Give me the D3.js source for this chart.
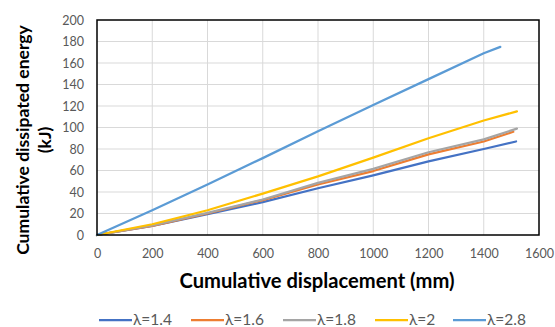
<!DOCTYPE html>
<html>
<head>
<meta charset="utf-8">
<script src="https://cdn.jsdelivr.net/npm/d3@7/dist/d3.min.js"></script>
<style>
    body { margin: 0; background: #fff; }
    svg { display: block; font-family: Lato, "Open Sans", sans-serif; }
</style>
</head>
<body>
<svg id="chart" width="555" height="327"></svg>
<script>
// tick labels
const xTicks = [0, 200, 400, 600, 800, 1000, 1200, 1400, 1600];
const yTicks = [0, 20, 40, 60, 80, 100, 120, 140, 160, 180, 200];

// series: cumulative displacement (mm) / cumulative dissipated energy (kJ)
const seriesNames = ['λ=1.4', 'λ=1.6', 'λ=1.8', 'λ=2', 'λ=2.8'];
const disp14 = [0, 200, 400, 600, 800, 1000, 1200, 1400, 1517];
const energy14 = [0, 8.5, 19.5, 30.5, 43.5, 55.5, 68.5, 80, 87];
const disp16 = [0, 200, 400, 600, 800, 1000, 1200, 1400, 1507];
const energy16 = [0, 8.5, 20, 32.5, 47, 59.5, 75, 87, 96];
const disp18 = [0, 200, 400, 600, 800, 1000, 1200, 1400, 1520];
const energy18 = [0, 9, 20.5, 33, 48.5, 61.5, 77, 89, 99];
const disp20 = [0, 200, 400, 600, 800, 1000, 1200, 1400, 1520];
const energy20 = [0, 10, 23, 38.5, 54.5, 72, 90, 106.5, 115];
const disp28 = [0, 200, 400, 600, 800, 1000, 1200, 1400, 1460];
const energy28 = [0, 23, 47, 71.5, 96.5, 121, 145, 169, 175];

const COLORS = ['#4472C4', '#ED7D31', '#A5A5A5', '#FFC000', '#5B9BD5'];
const LINE_WIDTH = 2.25;
const margins = {left: 97, top: 20, right: 16, bottom: 92};
const width = 555 - margins.left - margins.right;
const height = 327 - margins.top - margins.bottom;

const series = [
    [disp14, energy14],
    [disp16, energy16],
    [disp18, energy18],
    [disp20, energy20],
    [disp28, energy28]
].map(([xs, ys], i) => ({
    name: seriesNames[i],
    color: COLORS[i],
    points: xs.map((x, j) => ({x, y: ys[j]}))
}));

// scale a bold title's font so that it spans the width seen in the picture
function fitText(text, targetWidth) {
    const size = parseFloat(text.attr('font-size'));
    const w = text.node().getComputedTextLength();
    text.attr('font-size', size * targetWidth / w);
}

const svg = d3.select('#chart');
const xScale = d3.scaleLinear().domain([0, 1600]).range([0, width]);
const yScale = d3.scaleLinear().domain([0, 200]).range([height, 0]);

const g = svg.append('g')
    .attr('transform', `translate(${margins.left},${margins.top})`);

// gridlines
g.append('g')
    .selectAll('line')
    .data(xTicks.slice(1, -1))
    .join('line')
    .attr('x1', d => xScale(d)).attr('x2', d => xScale(d))
    .attr('y1', 0).attr('y2', height)
    .attr('stroke', '#d9d9d9').attr('stroke-width', 1);
g.append('g')
    .selectAll('line')
    .data(yTicks.slice(1, -1))
    .join('line')
    .attr('x1', 0).attr('x2', width)
    .attr('y1', d => yScale(d)).attr('y2', d => yScale(d))
    .attr('stroke', '#d9d9d9').attr('stroke-width', 1);

// axes (labels only, border drawn separately)
const xAxis = g.append('g')
    .attr('transform', `translate(0,${height})`)
    .call(d3.axisBottom(xScale).tickValues(xTicks).tickFormat(d3.format('d')).tickSize(0).tickPadding(14));
const yAxis = g.append('g')
    .call(d3.axisLeft(yScale).tickValues(yTicks).tickFormat(d3.format('d')).tickSize(0).tickPadding(13));
[xAxis, yAxis].forEach(a => {
    a.select('.domain').remove();
    a.selectAll('text')
        .attr('fill', '#595959')
        .style('font-size', '12.5px')
        .style('font-family', 'Lato, sans-serif');
});

// lines
const line = d3.line()
    .x(d => xScale(d.x))
    .y(d => yScale(d.y));
g.append('g')
    .selectAll('path')
    .data(series)
    .join('path')
    .attr('d', d => line(d.points))
    .attr('fill', 'none')
    .attr('stroke', d => d.color)
    .attr('stroke-width', LINE_WIDTH)
    .attr('stroke-linejoin', 'round')
    .attr('stroke-linecap', 'round');

// plot border
g.append('rect')
    .attr('x', 0).attr('y', 0)
    .attr('width', width).attr('height', height)
    .attr('fill', 'none')
    .attr('stroke', '#000')
    .attr('stroke-width', 1.5);

// axis titles
const xTitle = svg.append('text')
    .attr('x', 317)
    .attr('y', 288)
    .attr('text-anchor', 'middle')
    .attr('font-weight', 'bold')
    .attr('font-size', 18)
    .attr('fill', '#000')
    .text('Cumulative displacement (mm)');
fitText(xTitle, 275);

const yTitle = svg.append('text')
    .attr('transform', 'translate(0,140) rotate(-90)')
    .attr('text-anchor', 'middle')
    .attr('font-weight', 'bold')
    .attr('font-size', 18)
    .attr('fill', '#000');
const yLine1 = yTitle.append('tspan').attr('x', 0).attr('y', 29).text('Cumulative dissipated energy');
yTitle.append('tspan').attr('x', 0).attr('y', 51).text('(kJ)');
const s = 18 * 230 / yLine1.node().getComputedTextLength();
yTitle.attr('font-size', s);

// legend
const legendX = [99, 191, 283, 375, 453];
const legend = svg.append('g')
    .selectAll('g')
    .data(series)
    .join('g')
    .attr('transform', (d, i) => `translate(${legendX[i]},320)`);
legend.append('line')
    .attr('x1', 0).attr('x2', 33)
    .attr('stroke', d => d.color)
    .attr('stroke-width', LINE_WIDTH);
legend.append('text')
    .attr('x', 34)
    .attr('y', 5)
    .attr('font-size', 15.5)
    .attr('fill', '#595959')
    .text(d => d.name);
</script>
</body>
</html>
